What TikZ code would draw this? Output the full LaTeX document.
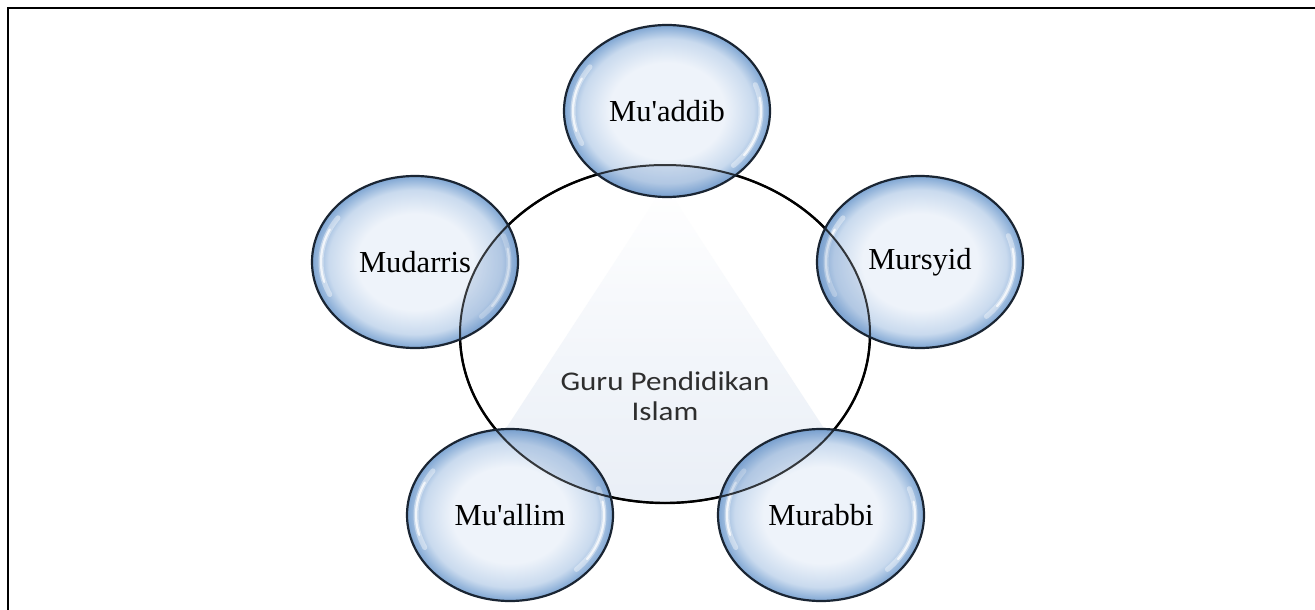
\documentclass[tikz,border=0pt]{standalone}
\usepackage{fontspec}
\setmainfont{Liberation Serif}
\newfontfamily\gurufont[FakeStretch=1.15]{Carlito}
\usetikzlibrary{shapes.geometric}
\definecolor{bubin}{HTML}{EEF3FA}
\definecolor{bubmid}{HTML}{C9DAEE}
\definecolor{bubout}{HTML}{7FA6D3}
\definecolor{bubline}{HTML}{1A2533}
\definecolor{conecol}{HTML}{E6ECF5}
\definecolor{tintcol}{HTML}{5F89C0}
\definecolor{gurutext}{HTML}{2E2E2E}
\pgfdeclareradialshading{bubshade}{\pgfpoint{0bp}{0bp}}{color(0bp)=(bubin); color(14bp)=(bubin); color(21bp)=(bubmid); color(25bp)=(bubout); color(50bp)=(bubout)}
\tikzset{
  bubtext/.style={ellipse, draw=bubline, line width=2.2pt, minimum width=206pt, minimum height=172pt, inner sep=0pt, font=\fontsize{30.5}{36}\selectfont},
  gurunode/.style={ellipse, draw=black, line width=2.4pt, minimum width=410pt, minimum height=338pt, inner sep=0pt},
  gurulabel/.style={align=center, inner sep=0pt, text=gurutext, font=\gurufont\fontsize{27}{29.5}\selectfont},
  hlwide/.style={white, opacity=0.4, line width=5pt, line cap=round},
  hlthin/.style={white, opacity=0.75, line width=2.2pt, line cap=round},
  frameline/.style={black, line width=2.6pt}
}
\newcommand\bubfill[2]{%
  \path[shading=bubshade] (#1,#2) ellipse [x radius=103, y radius=86];
  \begin{scope}[shift={(#1,#2)}]
    \draw[hlwide] plot[domain=155:215, samples=25] ({94*cos(\x)}, {77*sin(\x)});
    \draw[hlthin] plot[domain=165:205, samples=25] ({94*cos(\x)}, {77*sin(\x)});
    \draw[hlwide] plot[domain=-20:45, samples=25] ({94*cos(\x)}, {77*sin(\x)});
    \draw[hlthin] plot[domain=-10:35, samples=25] ({94*cos(\x)}, {77*sin(\x)});
  \end{scope}}
\begin{document}
\begin{tikzpicture}[x=1pt, y=-1pt]
\useasboundingbox (0,0) rectangle (1315,610);
\fill[white] (0,0) rectangle (1315,610);
\draw[frameline] (8,640) -- (8,8) -- (1340,8);
% central ellipse background
\fill[white] (665,334) ellipse [x radius=205, y radius=169];
\begin{scope}
  \clip (665,334) ellipse [x radius=205, y radius=169];
  \shade[top color=white, bottom color=conecol, middle color=conecol!55!white] (665,185) -- (420,560) -- (910,560) -- cycle;
\end{scope}
\node[gurunode] (guru) at (665,334) {};
\node[gurulabel] (gurutext) at (665,396) {Guru Pendidikan\\Islam};
% bubble fills
\bubfill{667}{111}
\bubfill{415}{262}
\bubfill{920}{262}
\bubfill{510}{515}
\bubfill{821}{515}
% overlap tint
\begin{scope}
  \clip (665,334) ellipse [x radius=205, y radius=169];
  \foreach \cx/\cy in {667/111, 415/262, 920/262, 510/515, 821/515}
    \fill[tintcol, opacity=0.22] (\cx,\cy) ellipse [x radius=103, y radius=86];
\end{scope}
\draw[black, opacity=0.75, line width=2pt] (guru.center) ellipse [x radius=205, y radius=169];
% bubble nodes with text
\node[bubtext] (muaddib) at (667,111) {Mu\textquotesingle addib};
\node[bubtext] (mudarris) at (415,262) {Mudarris};
\node[bubtext] (mursyid) at (920,262) {Mursyid};
\node[bubtext] (muallim) at (510,515) {Mu\textquotesingle allim};
\node[bubtext] (murabbi) at (821,515) {Murabbi};
\end{tikzpicture}
\end{document}
